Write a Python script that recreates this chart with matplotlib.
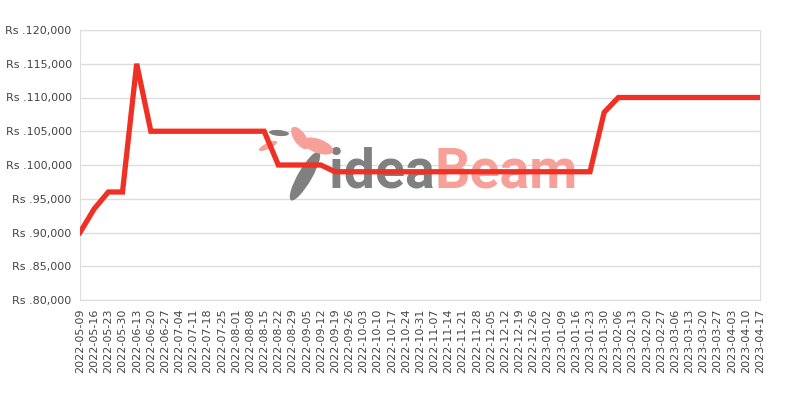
import matplotlib
matplotlib.use("Agg")
import matplotlib.pyplot as plt
from matplotlib.ticker import FuncFormatter
from matplotlib.patches import Ellipse

# weekly price points (categorical x axis, 2022-06-06 is not in the data)
dates = [
    "2022-05-09", "2022-05-16", "2022-05-23", "2022-05-30", "2022-06-13",
    "2022-06-20", "2022-06-27", "2022-07-04", "2022-07-11", "2022-07-18",
    "2022-07-25", "2022-08-01", "2022-08-08", "2022-08-15", "2022-08-22",
    "2022-08-29", "2022-09-05", "2022-09-12", "2022-09-19", "2022-09-26",
    "2022-10-03", "2022-10-10", "2022-10-17", "2022-10-24", "2022-10-31",
    "2022-11-07", "2022-11-14", "2022-11-21", "2022-11-28", "2022-12-05",
    "2022-12-12", "2022-12-19", "2022-12-26", "2023-01-02", "2023-01-09",
    "2023-01-16", "2023-01-23", "2023-01-30", "2023-02-06", "2023-02-13",
    "2023-02-20", "2023-02-27", "2023-03-06", "2023-03-13", "2023-03-20",
    "2023-03-27", "2023-04-03", "2023-04-10", "2023-04-17",
]
prices = [
    90000, 93500, 96000, 96000, 115000,
    105000, 105000, 105000, 105000, 105000,
    105000, 105000, 105000, 105000, 100000,
    100000, 100000, 100000, 99000, 99000,
    99000, 99000, 99000, 99000, 99000,
    99000, 99000, 99000, 99000, 99000,
    99000, 99000, 99000, 99000, 99000,
    99000, 99000, 107800, 110000, 110000,
    110000, 110000, 110000, 110000, 110000,
    110000, 110000, 110000, 110000,
]
yticks = [80000, 85000, 90000, 95000, 100000, 105000, 110000, 115000, 120000]

LINE = "#ee3124"
GRID = "#dddddd"
WM_GRAY = "#808080"
WM_PINK = "#f7a099"


def rs(v, pos):
    return "Rs .{:,.0f}".format(v)


def logo(ax, fig):
    # rough bird + feather mark of the watermark, in pixel units (y from top)
    tr = fig.dpi_scale_trans
    shapes = [
        ((305, 176), 14, 56, -30, WM_GRAY),
        ((279, 133), 20, 6, -5, WM_GRAY),
        ((268, 146), 20, 6, 25, WM_PINK),
        ((300, 138), 12, 26, 35, WM_PINK),
        ((318, 146), 32, 14, -20, WM_PINK),
    ]
    for (px, py), w, h, ang, c in shapes:
        e = Ellipse((px / 100, (400 - py) / 100), w / 100, h / 100, angle=ang,
                    transform=tr, color=c, zorder=1, clip_on=False, lw=0)
        ax.add_artist(e)


def main():
    fig = plt.figure(figsize=(8, 4), dpi=100)
    ax = fig.add_axes([0.1, 0.25, 0.85, 0.675])

    x = list(range(len(dates)))

    # watermark behind the data
    ax.text(0.522, 0.415, "idea", transform=ax.transAxes, fontsize=40,
            fontweight="bold", color=WM_GRAY, family="Roboto",
            ha="right", va="baseline", zorder=1)
    ax.text(0.522, 0.415, "Beam", transform=ax.transAxes, fontsize=40,
            fontweight="bold", color=WM_PINK, family="Roboto",
            ha="left", va="baseline", zorder=1)
    logo(ax, fig)

    ax.plot(x, prices, color=LINE, linewidth=3.8, solid_joinstyle="miter",
            zorder=3)

    ax.set_xlim(0, len(dates) - 1)
    ax.set_ylim(80000, 120000)
    ax.set_yticks(yticks)
    ax.yaxis.set_major_formatter(FuncFormatter(rs))
    ax.set_xticks(x)
    ax.set_xticklabels(dates, rotation=90)

    ax.grid(axis="y", color=GRID, linewidth=1)
    ax.set_axisbelow(True)
    for s in ax.spines.values():
        s.set_color(GRID)
    ax.tick_params(length=0, labelsize=8, colors="#444444", pad=6)

    fig.savefig("out.png")


if __name__ == "__main__":
    main()
